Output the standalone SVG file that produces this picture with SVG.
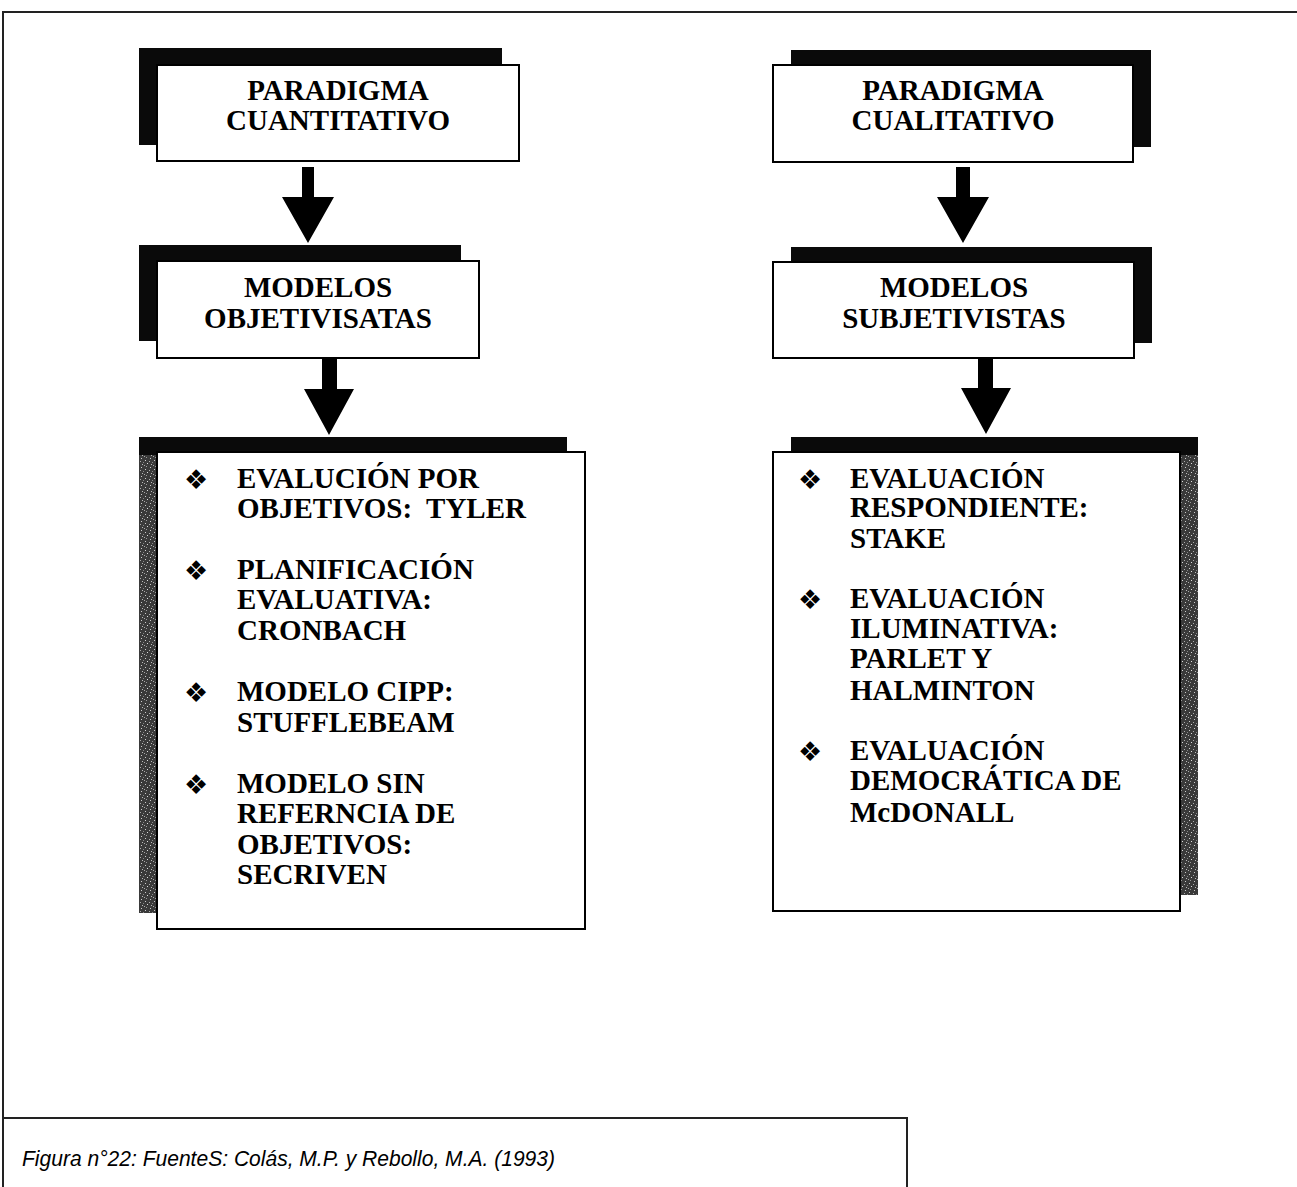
<svg xmlns="http://www.w3.org/2000/svg" width="1297" height="1187" viewBox="0 0 1297 1187">
<defs>
<style>
.frame{fill:none;stroke:#222;stroke-width:2}
.box{fill:#fff;stroke:#000;stroke-width:2}
.sh{fill:#0a0a0a}
.tex{fill:url(#noise)}
.t{font-family:"Liberation Serif","Times New Roman",serif;font-weight:bold;font-size:29px;fill:#000}
.c{text-anchor:middle}
.b{font-family:"DejaVu Sans",sans-serif;font-size:27px;fill:#000}
.arrow{fill:#000}
.cap{font-family:"Liberation Sans",Arial,sans-serif;font-style:italic;font-size:22px;fill:#000}
</style>
<pattern id="noise" width="9" height="9" patternUnits="userSpaceOnUse">
<rect width="9" height="9" fill="#3a3a3a"/>
<rect x="1" y="1" width="1" height="1" fill="#ccc"/>
<rect x="5" y="2" width="1" height="1" fill="#aaa"/>
<rect x="3" y="4" width="1" height="1" fill="#ddd"/>
<rect x="7" y="5" width="1" height="1" fill="#bbb"/>
<rect x="2" y="7" width="1" height="1" fill="#999"/>
<rect x="6" y="8" width="1" height="1" fill="#ccc"/>
<rect x="8" y="3" width="1" height="1" fill="#888"/>
<rect x="0" y="6" width="1" height="1" fill="#aaa"/>
</pattern>
</defs>
<rect width="1297" height="1187" fill="#fff"/>
<g id="frame">
<path class="frame" d="M3 1187 V12 H1297"/>
</g>

<g id="connectors">
<polygon class="arrow" points="302,167 314,167 314,197 334,197 308,243 282,197 302,197"/>
<polygon class="arrow" points="322,358 337,358 337,389 354,389 329,435 304,389 322,389"/>
<polygon class="arrow" points="956,167 970,167 970,197 989,197 963,243 937,197 956,197"/>
<polygon class="arrow" points="978,358 993,358 993,388 1011,388 986,434 961,388 978,388"/>
</g>

<g id="paradigma-cuantitativo">
<rect class="sh" x="139" y="48" width="363" height="97"/>
<rect class="box" x="157" y="65" width="362" height="96"/>
<text class="t c" x="338" y="100">PARADIGMA</text>
<text class="t c" x="338" y="130">CUANTITATIVO</text>
</g>

<g id="modelos-objetivisatas">
<rect class="sh" x="139" y="245" width="322" height="96"/>
<rect class="box" x="157" y="261" width="322" height="97"/>
<text class="t c" x="318" y="297">MODELOS</text>
<text class="t c" x="318" y="328">OBJETIVISATAS</text>
</g>

<g id="lista-objetivistas">
<rect class="sh" x="139" y="437" width="428" height="476"/>
<rect class="tex" x="139" y="455" width="18" height="458"/>
<rect class="box" x="157" y="452" width="428" height="477"/>
<text class="b" x="184" y="489">❖</text>
<text class="t" x="237" y="488">EVALUCIÓN POR</text>
<text class="t" x="237" y="518" xml:space="preserve">OBJETIVOS:  TYLER</text>
<text class="b" x="184" y="580">❖</text>
<text class="t" x="237" y="579">PLANIFICACIÓN</text>
<text class="t" x="237" y="609">EVALUATIVA:</text>
<text class="t" x="237" y="640">CRONBACH</text>
<text class="b" x="184" y="702">❖</text>
<text class="t" x="237" y="701">MODELO CIPP:</text>
<text class="t" x="237" y="732">STUFFLEBEAM</text>
<text class="b" x="184" y="794">❖</text>
<text class="t" x="237" y="793">MODELO SIN</text>
<text class="t" x="237" y="823">REFERNCIA DE</text>
<text class="t" x="237" y="854">OBJETIVOS:</text>
<text class="t" x="237" y="884">SECRIVEN</text>
</g>

<g id="paradigma-cualitativo">
<rect class="sh" x="791" y="50" width="360" height="97"/>
<rect class="box" x="773" y="65" width="360" height="97"/>
<text class="t c" x="953" y="100">PARADIGMA</text>
<text class="t c" x="953" y="130">CUALITATIVO</text>
</g>

<g id="modelos-subjetivistas">
<rect class="sh" x="791" y="247" width="361" height="96"/>
<rect class="box" x="773" y="262" width="361" height="96"/>
<text class="t c" x="954" y="297">MODELOS</text>
<text class="t c" x="954" y="328">SUBJETIVISTAS</text>
</g>

<g id="lista-subjetivistas">
<rect class="sh" x="791" y="437" width="407" height="458"/>
<rect class="tex" x="1180" y="455" width="18" height="440"/>
<rect class="box" x="773" y="452" width="407" height="459"/>
<text class="b" x="798" y="489">❖</text>
<text class="t" x="850" y="488">EVALUACIÓN</text>
<text class="t" x="850" y="517">RESPONDIENTE:</text>
<text class="t" x="850" y="548">STAKE</text>
<text class="b" x="798" y="609">❖</text>
<text class="t" x="850" y="608">EVALUACIÓN</text>
<text class="t" x="850" y="638">ILUMINATIVA:</text>
<text class="t" x="850" y="668">PARLET Y</text>
<text class="t" x="850" y="700">HALMINTON</text>
<text class="b" x="798" y="761">❖</text>
<text class="t" x="850" y="760">EVALUACIÓN</text>
<text class="t" x="850" y="790">DEMOCRÁTICA DE</text>
<text class="t" x="850" y="822">McDONALL</text>
</g>

<g id="caption">
<path class="frame" d="M3 1118 H907 V1187"/>
<text class="cap" x="22" y="1166" textLength="533" lengthAdjust="spacingAndGlyphs">Figura n°22: FuenteS: Colás, M.P. y Rebollo, M.A. (1993)</text>
</g>
</svg>
